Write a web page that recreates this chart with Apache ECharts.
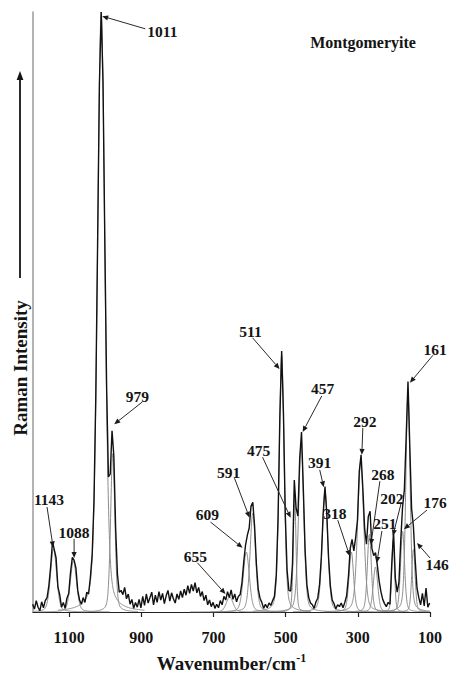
<!DOCTYPE html>
<html><head><meta charset="utf-8">
<script src="https://cdn.jsdelivr.net/npm/echarts@6/dist/echarts.min.js"></script>
<style>html,body{margin:0;padding:0;background:#fff}#c{width:454px;height:682px}</style>
</head><body><div id="c"></div>
<script>
// ---- data ----
const xTickValues = [100, 300, 500, 700, 900, 1100];

// fitted component bands: centre (cm-1), height (rel. intensity), FWHM (cm-1)
const bandCenters = [1143, 1088, 1011, 979, 655, 609, 591, 511, 475, 457, 391, 318, 292, 268, 251, 202, 176, 161, 146];
const bandHeights = [10.5, 8.5, 100, 26.5, 2.5, 10, 16.5, 42.8, 19, 28, 20, 10, 25, 13, 7.5, 12, 13.5, 36.5, 10.5];
const bandWidths  = [20, 20, 24, 14, 22, 20, 18, 16, 9, 17, 18, 15, 20, 13, 15, 9, 13, 14, 11];

// measured spectrum [wavenumber, intensity]
const spectrum = [
[1201,1.3],[1196,0.5],[1191,1.9],[1186,0.8],[1181,0.2],[1176,1.7],[1171,0.7],[1166,1.9],[1161,2.4],[1156,4.4],
[1151,7.6],[1146,11.7],[1141,10.4],[1136,9.0],[1131,4.2],[1126,2.9],[1121,0.8],[1116,1.6],[1111,0.6],[1106,2.3],
[1101,3.1],[1096,6.6],[1091,9.1],[1086,8.6],[1081,7.3],[1076,3.6],[1071,2.0],[1066,1.3],[1061,2.4],[1056,1.6],
[1051,3.3],[1046,3.0],[1041,5.8],[1036,9.6],[1031,18.5],[1026,36.0],[1021,61.5],[1016,88.0],[1011,100],[1006,88.3],
[1001,61.8],[996,37.4],[991,22.5],[986,23.0],[981,30.2],[976,26.0],[971,13.9],[966,6.3],[961,3.3],[956,3.6],
[951,2.9],[946,4.1],[941,2.2],[936,3.0],[931,1.3],[926,2.1],[921,0.6],[916,1.6],[911,0.8],[906,2.1],
[901,0.7],[896,2.6],[891,1.1],[886,3.0],[881,1.5],[876,2.4],[871,3.3],[866,1.2],[861,2.8],[856,1.6],
[851,3.4],[846,2.0],[841,3.1],[836,1.4],[831,2.7],[826,3.6],[821,1.8],[816,3.2],[811,2.2],[806,1.5],
[801,3.0],[796,2.1],[791,3.5],[786,2.4],[781,3.8],[776,2.8],[771,4.4],[766,3.1],[761,4.6],[756,3.5],
[751,4.9],[746,3.2],[741,4.1],[736,2.6],[731,3.4],[726,1.9],[721,2.8],[716,1.2],[711,2.0],[706,0.9],
[701,1.6],[696,0.6],[691,1.3],[686,0.7],[681,1.9],[676,1.2],[671,2.6],[666,2.0],[661,3.4],[656,2.4],
[651,3.7],[646,2.1],[641,3.0],[636,1.7],[631,2.6],[626,2.9],[621,4.9],[616,8.4],[611,11.2],[606,12.8],
[601,14.0],[596,17.6],[591,18.3],[586,14.3],[581,8.0],[576,3.8],[571,2.3],[566,1.6],[561,0.6],[556,1.3],
[551,0.7],[546,1.5],[541,1.1],[536,1.9],[531,2.6],[526,6.1],[521,15.6],[516,32.6],[511,43.5],[506,33.0],
[501,16.3],[496,7.0],[491,3.6],[486,3.5],[481,8.0],[476,22.0],[471,17.3],[466,16.0],[461,25.6],[456,30.0],
[451,20.6],[446,10.2],[441,4.5],[436,2.4],[431,1.5],[426,1.2],[421,0.6],[416,1.7],[411,2.3],[406,4.6],
[401,9.2],[396,16.4],[391,20.9],[386,16.5],[381,9.0],[376,4.3],[371,2.0],[366,1.4],[361,0.5],[356,1.2],
[351,0.9],[346,1.5],[341,0.7],[336,1.6],[331,2.7],[326,5.9],[321,10.6],[316,12.1],[311,10.2],[306,12.4],
[301,15.3],[296,23.4],[291,26.2],[286,20.5],[281,13.8],[276,11.3],[271,15.9],[266,16.8],[261,10.6],[256,9.4],
[251,9.9],[246,7.8],[241,5.2],[236,3.4],[231,2.1],[226,1.4],[221,0.9],[216,1.6],[211,1.3],[206,7.9],
[201,13.4],[196,5.6],[191,3.3],[186,5.0],[181,12.0],[176,17.5],[171,20.4],[166,29.2],[161,38.4],[156,27.7],
[151,17.2],[146,14.3],[141,8.6],[136,4.0],[131,2.4],[126,1.2],[121,3.1],[116,1.0],[111,4.0],[106,0.8],[101,1.5]
];

// peak annotations (data coordinates: wavenumber, intensity)
const annotationLabels = ['1011','979','1143','1088','655','609','591','511','475','457','391','318','292','268','251','202','176','161','146'];
const annotationTextAt = [[841.7,96.7],[911.1,36],[1155.6,18.8],[1086.1,13.2],[750,9.2],[716.7,16.2],[658.3,23.3],[597.2,46.8],[575,27],[397.2,37.3],[405.6,25],[363.9,16.5],[280.6,31.7],[230.6,23],[225,14.7],[205.6,19],[86.1,18.2],[86.1,43.8],[80.6,8]];
const arrowTail = [[888.9,97.2],[897.2,35],[1161.1,17.5],[1086.1,12.2],[744.4,8.2],[708.3,15],[641.7,22.3],[591.7,45.7],[563.9,25.8],[400,36],[405.6,23.7],[355.6,15.3],[286.1,30.7],[238.9,21.8],[233.3,13.5],[180.6,18],[108.3,17],[91.7,42.8],[100,9]];
const arrowHead = [[1008.3,99.3],[975,31.3],[1144.4,10.8],[1086.1,9.0],[666.7,3.0],[619.4,10.7],[600,15.7],[516.7,40.5],[486.1,15.7],[452.8,30],[394.4,20.8],[322.2,9.3],[288.9,26.2],[263.9,11.2],[247.2,8.2],[202.8,12.7],[172.2,13.8],[155.6,38.2],[136.1,11.5]];

// ---- chart ----
const SERIF = '"Liberation Serif","Times New Roman",serif';
const chart = echarts.init(document.getElementById('c'), null, {renderer: 'svg'});

function bandValue(x, c, h, w) {
  const d = (x - c) / w;
  return h * (0.7 * Math.exp(-4 * Math.LN2 * d * d) + 0.3 / (1 + 4 * d * d));
}

const componentSeries = bandCenters.map((c, i) => {
  const w = bandWidths[i], h = bandHeights[i];
  const pts = [];
  const lo = Math.max(100, c - 5 * w), hi = Math.min(1200, c + 5 * w);
  for (let x = lo; x <= hi + 1e-9; x += 0.5) pts.push([x, bandValue(x, c, h, w)]);
  return {
    type: 'line', name: 'band ' + c, data: pts, showSymbol: false, symbol: 'none',
    lineStyle: {color: '#8c8c8c', width: 1}, silent: true, z: 2, animation: false
  };
});

const annData = annotationLabels.map((t, i) => [
  annotationTextAt[i][0], annotationTextAt[i][1],
  arrowTail[i][0], arrowTail[i][1],
  arrowHead[i][0], arrowHead[i][1]
]);

const annotationSeries = {
  type: 'custom',
  data: annData,
  encode: {x: [0, 2, 4], y: [1, 3, 5]},
  clip: false,
  silent: true,
  z: 10,
  animation: false,
  renderItem: (params, api) => {
    const i = params.dataIndex;
    const lp = api.coord([api.value(0), api.value(1)]);
    const fp = api.coord([api.value(2), api.value(3)]);
    const tp = api.coord([api.value(4), api.value(5)]);
    const ang = Math.atan2(tp[1] - fp[1], tp[0] - fp[0]);
    const L = 6, W = 2.6;
    const bx = tp[0] - L * Math.cos(ang), by = tp[1] - L * Math.sin(ang);
    const sx = -Math.sin(ang) * W, sy = Math.cos(ang) * W;
    return {
      type: 'group',
      children: [
        {type: 'line', shape: {x1: fp[0], y1: fp[1], x2: bx, y2: by},
         style: {stroke: '#2a2a2a', lineWidth: 1}},
        {type: 'polygon', shape: {points: [[tp[0], tp[1]], [bx + sx, by + sy], [bx - sx, by - sy]]},
         style: {fill: '#1a1a1a'}},
        {type: 'text', x: lp[0], y: lp[1],
         style: {text: annotationLabels[i], fill: '#141414', font: 'bold 15.5px ' + SERIF,
                 align: 'center', verticalAlign: 'middle', textAlign: 'center', textVerticalAlign: 'middle'}}
      ]
    };
  }
};

const option = {
  animation: false,
  backgroundColor: '#ffffff',
  grid: {left: 33, right: 24, top: 12, bottom: 70, containLabel: false},
  xAxis: {
    type: 'value', inverse: true, min: 100, max: 1200,
    axisLine: {show: true, onZero: false, lineStyle: {color: '#222', width: 1.2}},
    axisTick: {show: true, inside: false, length: 5, customValues: xTickValues, lineStyle: {color: '#222', width: 1.2}},
    axisLabel: {customValues: xTickValues, formatter: v => String(v), margin: 17,
                fontFamily: SERIF, fontSize: 16, fontWeight: 'bold', color: '#141414'},
    splitLine: {show: false},
    name: '{m|Wavenumber/cm}{s|-1}',
    nameLocation: 'middle',
    nameGap: 40,
    nameMoveOverlap: false,
    nameTextStyle: {
      rich: {
        m: {fontFamily: SERIF, fontSize: 19, fontWeight: 'bold', color: '#141414'},
        s: {fontFamily: SERIF, fontSize: 12, fontWeight: 'bold', color: '#141414', padding: [0, 0, 11, 0]}
      }
    }
  },
  yAxis: {
    type: 'value', min: 0, max: 100,
    axisLine: {show: true, onZero: false, lineStyle: {color: '#9a9a9a', width: 1.5}},
    axisTick: {show: false}, axisLabel: {show: false}, splitLine: {show: false}
  },
  graphic: [
    {type: 'text', x: 363, y: 42,
     style: {text: 'Montgomeryite', font: 'bold 16px ' + SERIF, fill: '#141414',
             align: 'center', verticalAlign: 'middle', textAlign: 'center', textVerticalAlign: 'middle'}},
    {type: 'text', x: 20, y: 368, rotation: Math.PI / 2,
     style: {text: 'Raman Intensity', font: 'bold 19px ' + SERIF, fill: '#141414',
             align: 'center', verticalAlign: 'middle', textAlign: 'center', textVerticalAlign: 'middle'}},
    {type: 'line', shape: {x1: 20, y1: 278, x2: 20, y2: 79}, style: {stroke: '#141414', lineWidth: 1.8}},
    {type: 'polygon', shape: {points: [[20, 71], [16.6, 80], [23.4, 80]]}, style: {fill: '#141414'}}
  ],
  series: componentSeries.concat([
    {type: 'line', name: 'Montgomeryite', data: spectrum, showSymbol: false, symbol: 'none',
     lineStyle: {color: '#111', width: 1.4}, silent: true, z: 5, animation: false},
    annotationSeries
  ])
};
chart.setOption(option);
</script></body></html>
